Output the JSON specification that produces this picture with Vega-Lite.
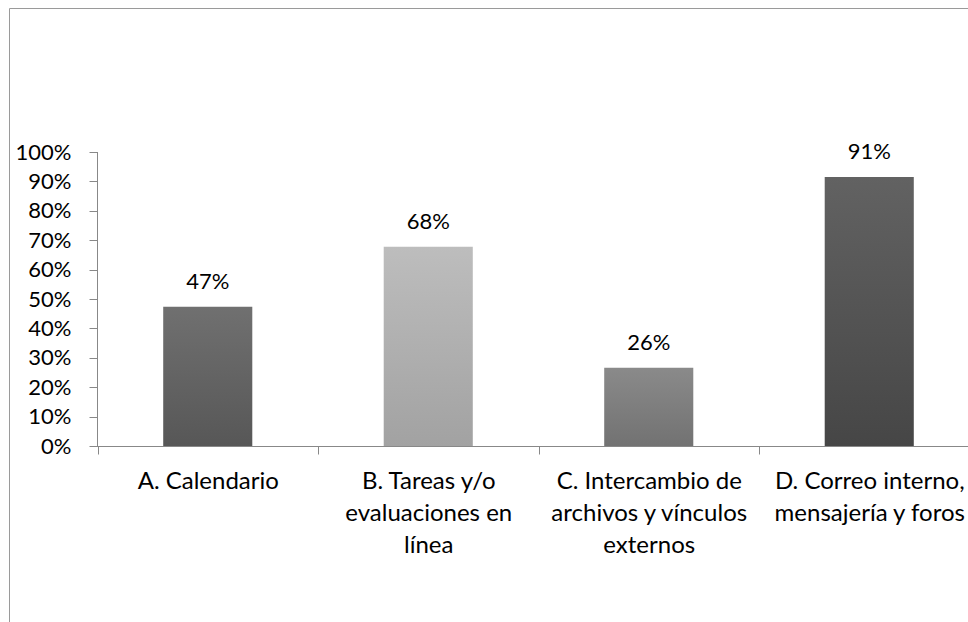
{
  "$schema": "https://vega.github.io/schema/vega-lite/v6.json",
  "autosize": {"type": "none"},
  "padding": {"left": 9, "top": 8, "right": 0, "bottom": 0},
  "width": 1000,
  "height": 700,
  "background": "white",
  "config": {"view": {"stroke": "#9a9a9a", "strokeWidth": 1}, "font": "Lato"},
  "data": {"values": [
    {"id": "A", "cat": "A. Calendario", "value": 0.474, "lbl": "47%"},
    {"id": "B", "cat": "B. Tareas y/o|evaluaciones en|línea", "value": 0.678, "lbl": "68%"},
    {"id": "C", "cat": "C. Intercambio de|archivos y vínculos|externos", "value": 0.266, "lbl": "26%"},
    {"id": "D", "cat": "D. Correo interno,|mensajería y foros", "value": 0.915, "lbl": "91%"}
  ]},
  "encoding": {
    "x": {
      "field": "cat", "type": "nominal", "sort": null,
      "scale": {"range": [88.5, 970.5], "paddingInner": 0, "paddingOuter": 0},
      "axis": {
        "title": null, "orient": "bottom", "offset": -262, "tickBand": "extent",
        "tickSize": 8, "tickColor": "#888888", "domainColor": "#888888",
        "labelFontSize": 24, "labelLineHeight": 32, "labelPadding": 15,
        "labelColor": "#000000", "labelAngle": 0, "labelLimit": 400,
        "labelOverlap": false, "labelExpr": "split(datum.label, '|')", "grid": false
      }
    }
  },
  "layer": [
    {
      "transform": [{"filter": "datum.id == 'A'"}],
      "mark": {"type": "bar", "width": {"band": 0.404},
        "color": {"gradient": "linear", "x1": 0, "y1": 0, "x2": 0, "y2": 1,
          "stops": [{"offset": 0, "color": "#707070"}, {"offset": 1, "color": "#575757"}]}},
      "encoding": {
        "y": {"field": "value", "type": "quantitative",
          "scale": {"domain": [-0.891156, 1.489796], "nice": false, "zero": false},
          "axis": {"title": null, "values": [0, 0.1, 0.2, 0.3, 0.4, 0.5, 0.6, 0.7, 0.8, 0.9, 1],
            "format": ".0%", "offset": -88.5, "domain": false, "grid": false,
            "tickSize": 8.5, "tickColor": "#888888", "labelPadding": 18,
            "labelFontSize": 22, "labelColor": "#000000"}}
      }
    },
    {
      "transform": [{"filter": "datum.id == 'B'"}],
      "mark": {"type": "bar", "width": {"band": 0.404},
        "color": {"gradient": "linear", "x1": 0, "y1": 0, "x2": 0, "y2": 1,
          "stops": [{"offset": 0, "color": "#bdbdbd"}, {"offset": 1, "color": "#a2a2a2"}]}},
      "encoding": {"y": {"field": "value", "type": "quantitative"}}
    },
    {
      "transform": [{"filter": "datum.id == 'C'"}],
      "mark": {"type": "bar", "width": {"band": 0.404},
        "color": {"gradient": "linear", "x1": 0, "y1": 0, "x2": 0, "y2": 1,
          "stops": [{"offset": 0, "color": "#8a8a8a"}, {"offset": 1, "color": "#727272"}]}},
      "encoding": {"y": {"field": "value", "type": "quantitative"}}
    },
    {
      "transform": [{"filter": "datum.id == 'D'"}],
      "mark": {"type": "bar", "width": {"band": 0.404},
        "color": {"gradient": "linear", "x1": 0, "y1": 0, "x2": 0, "y2": 1,
          "stops": [{"offset": 0, "color": "#626262"}, {"offset": 1, "color": "#464646"}]}},
      "encoding": {"y": {"field": "value", "type": "quantitative"}}
    },
    {
      "mark": {"type": "text", "baseline": "alphabetic", "dy": -18, "fontSize": 22, "color": "#000000"},
      "encoding": {
        "y": {"field": "value", "type": "quantitative"},
        "text": {"field": "lbl"}
      }
    },
    {
      "transform": [{"filter": "datum.id == 'A'"}],
      "mark": {"type": "rule", "color": "#888888", "strokeWidth": 1},
      "encoding": {
        "x": {"field": "cat", "type": "nominal", "bandPosition": 0},
        "y": {"datum": 0},
        "y2": {"datum": 1}
      }
    }
  ]
}
